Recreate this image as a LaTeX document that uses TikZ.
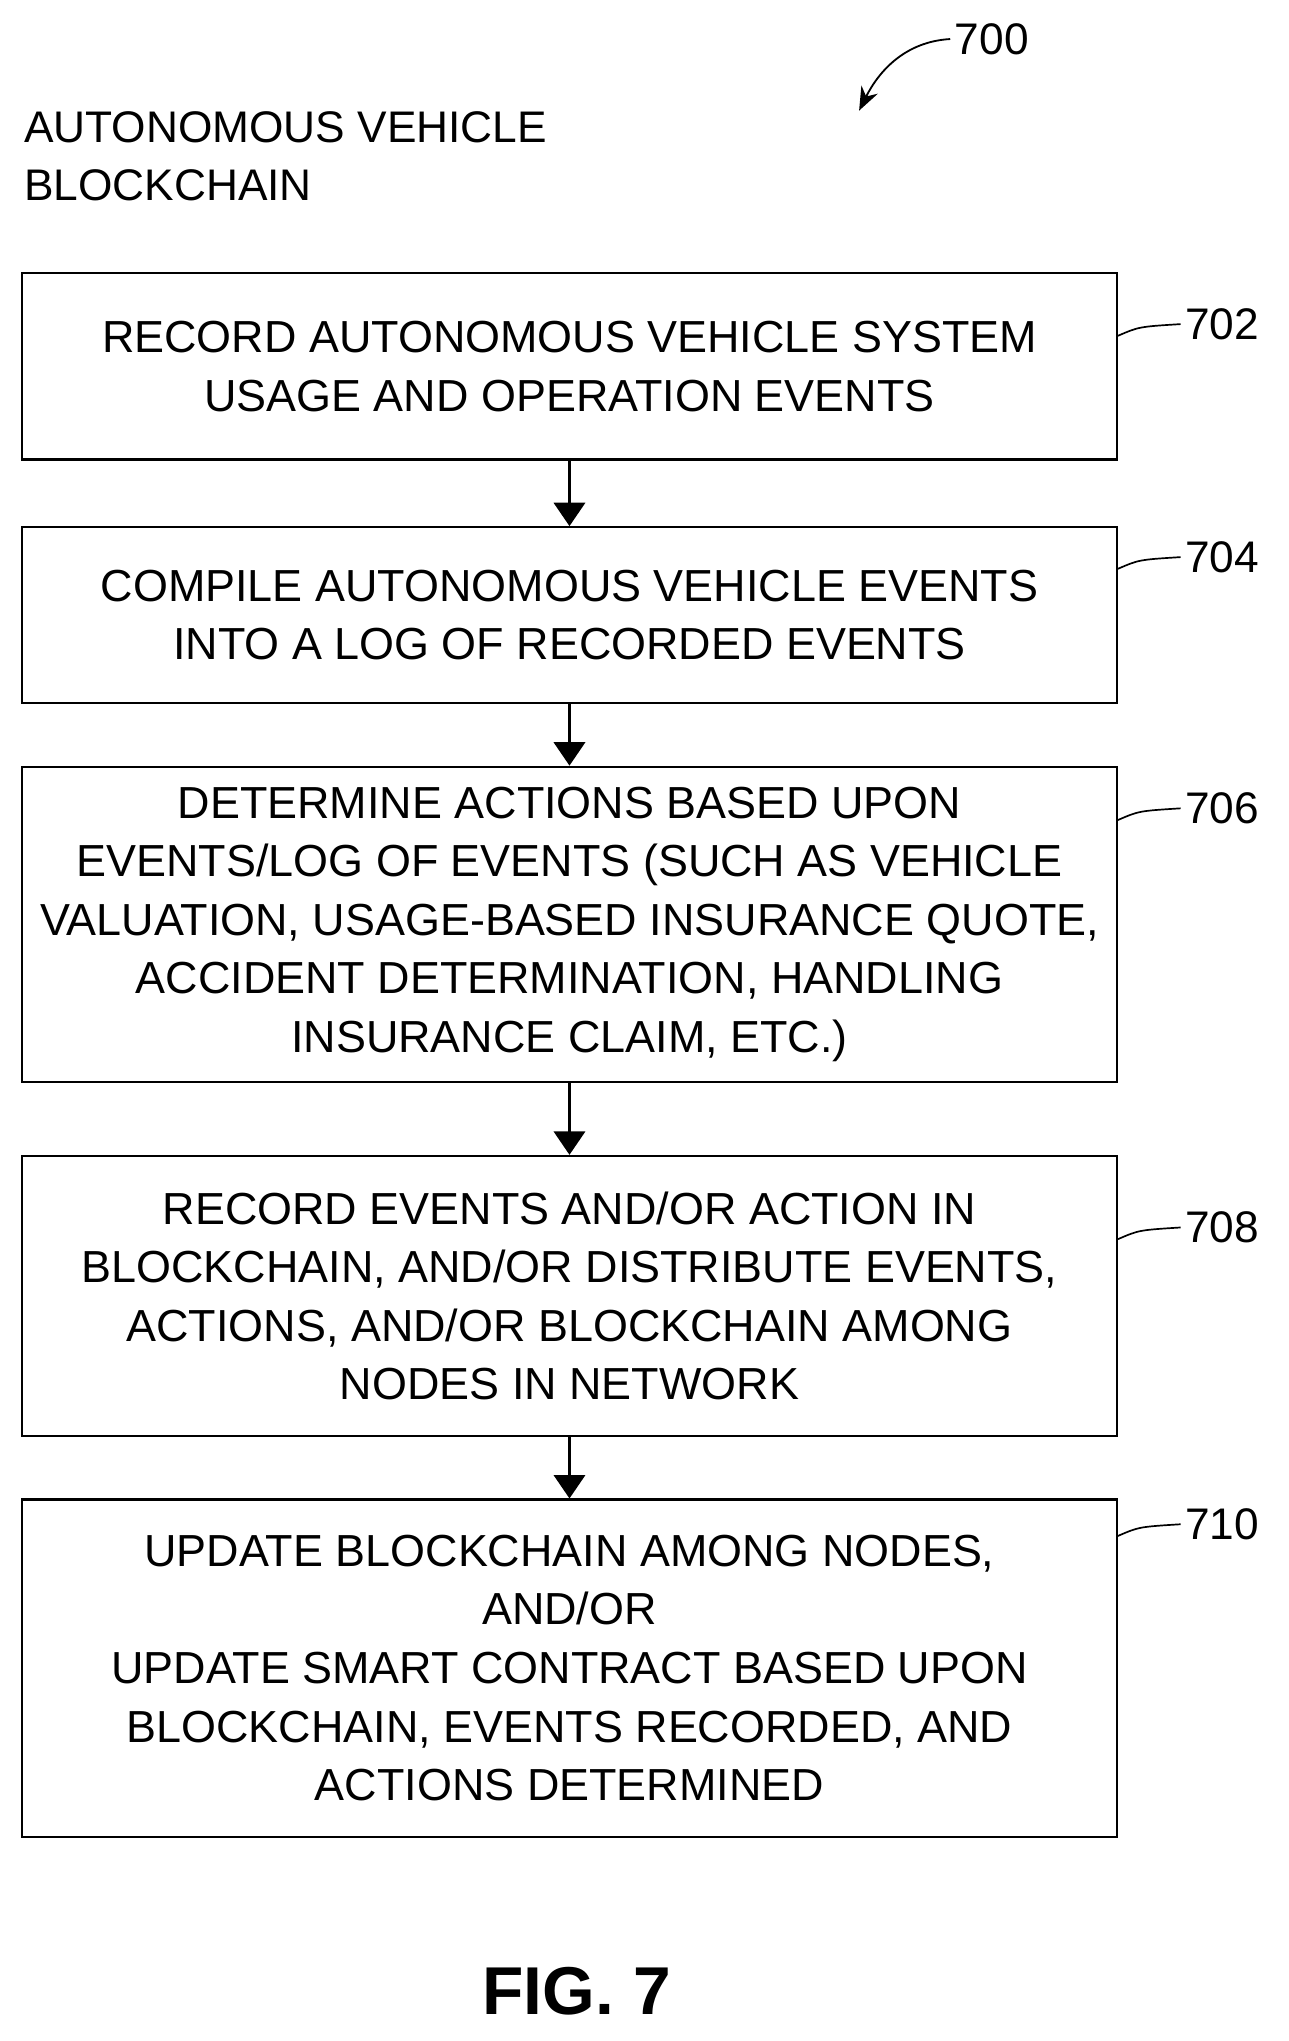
\documentclass[tikz,border=0pt]{standalone}
\usepackage{fontspec}
\setmainfont{Liberation Sans}
\usetikzlibrary{positioning}
\usepgflibrary{arrows.meta}
\begin{document}
\begin{tikzpicture}[x=1pt, y=-1pt,
    stepbox/.style={draw, line width=1.6pt, minimum width=841pt, align=center, inner sep=0pt,
      font=\fontsize{34.5}{45}\selectfont},
    flow/.style={draw, line width=2.2pt, -{Triangle[length=18pt, width=24pt]}},
    refnum/.style={font=\fontsize{34}{40}\selectfont, anchor=west},
    leader/.style={draw, line width=1.3pt}]
    \useasboundingbox (0,0) rectangle (990,1568);

    \node[anchor=west, align=left, font=\fontsize{34}{45}\selectfont] (title) at (15,120)
      {AUTONOMOUS VEHICLE\\BLOCKCHAIN};
    \node[refnum] (n700) at (730,30) {700};
    \path [draw, line width=1.4pt, -{Stealth[length=18pt, width=14pt]}] (n700.west) .. controls (695,32) and (675,55) .. (660,85);

    \node[stepbox, minimum height=143pt] (s702) at (437.5,281.5)
      {RECORD AUTONOMOUS VEHICLE SYSTEM\\USAGE AND OPERATION EVENTS};
    \node[stepbox, minimum height=135pt] (s704) at (437.5,472.5)
      {COMPILE AUTONOMOUS VEHICLE EVENTS\\INTO A LOG OF RECORDED EVENTS};
    \node[stepbox, minimum height=242pt] (s706) at (437.5,710)
      {DETERMINE ACTIONS BASED UPON\\EVENTS/LOG OF EVENTS (SUCH AS VEHICLE\\VALUATION, USAGE-BASED INSURANCE QUOTE,\\ACCIDENT DETERMINATION, HANDLING\\INSURANCE CLAIM, ETC.)};
    \node[stepbox, minimum height=215pt] (s708) at (437.5,995.5)
      {RECORD EVENTS AND/OR ACTION IN\\BLOCKCHAIN, AND/OR DISTRIBUTE EVENTS,\\ACTIONS, AND/OR BLOCKCHAIN AMONG\\NODES IN NETWORK};
    \node[stepbox, minimum height=259pt] (s710) at (437.5,1281.5)
      {UPDATE BLOCKCHAIN AMONG NODES,\\AND/OR\\UPDATE SMART CONTRACT BASED UPON\\BLOCKCHAIN, EVENTS RECORDED, AND\\ACTIONS DETERMINED};

    \foreach \a/\b in {s702/s704, s704/s706, s706/s708, s708/s710}
      \path [flow] (\a.south) -- (\b.north);

    % reference numbers
    \foreach \s/\n/\y in {s702/702/249, s704/704/428, s706/706/621, s708/708/943, s710/710/1171} {
      \node[refnum] (r\n) at (907,\y) {\n};
      \path [leader] (\s.east |- 0,\y+9) .. controls (875,\y+2) .. (r\n.west);
    }

    \node[font=\bfseries\fontsize{52}{60}\selectfont] (fig) at (443,1530) {FIG. 7};
\end{tikzpicture}
\end{document}
